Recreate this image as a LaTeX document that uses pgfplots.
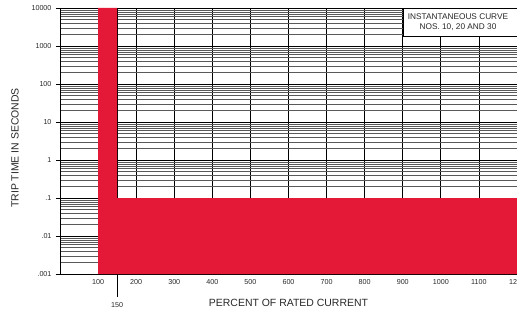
\documentclass[border=0pt]{standalone}
\usepackage{pgfplots}
\pgfplotsset{compat=1.18}
\usepackage{fontspec}
\setmainfont{Liberation Sans}
\definecolor{tripred}{RGB}{227,25,55}
\definecolor{txt}{RGB}{40,40,40}
\begin{document}
\begin{tikzpicture}
\path[use as bounding box] (-60bp,-40bp) rectangle (457bp,274bp);
\begin{axis}[
  scale only axis,
  width=457bp, height=266bp,
  xmin=0, xmax=1200,
  ymode=log, ymin=1e-3, ymax=1e4,
  axis line style={black, line width=0.8bp},
  axis x line*=bottom,
  axis y line*=left,
  xtick={100,200,300,400,500,600,700,800,900,1000,1100,1200},
  xticklabels={100,200,300,400,500,600,700,800,900,1000,1100,1200},
  extra x ticks={150},
  extra x tick labels={},
  extra x tick style={grid=major},
  xtick style={draw=none},
  ytick={1e-3,1e-2,1e-1,1,10,100,1000,10000},
  yticklabels={.001,.01,.1,1,10,100,1000,10000},
  minor ytick={2e-3,3e-3,4e-3,5e-3,6e-3,7e-3,8e-3,9e-3,
               2e-2,3e-2,4e-2,5e-2,6e-2,7e-2,8e-2,9e-2,
               0.2,0.3,0.4,0.5,0.6,0.7,0.8,0.9,
               2,3,4,5,6,7,8,9,
               20,30,40,50,60,70,80,90,
               200,300,400,500,600,700,800,900,
               2000,3000,4000,5000,6000,7000,8000,9000},
  tick align=outside,
  major tick length=4bp,
  minor tick length=0pt,
  ytick style={black, line width=0.6bp},
  grid=both,
  major grid style={black, line width=0.75bp},
  minor grid style={black!65, line width=0.3bp},
  tick label style={font=\fontsize{7.2}{8}\selectfont, text=txt},
  xticklabel style={yshift=2bp},
  yticklabel style={xshift=-1bp},
  xlabel={PERCENT OF RATED CURRENT},
  ylabel={TRIP TIME IN SECONDS},
  label style={font=\fontsize{10.5}{12}\selectfont, text=txt},
  xlabel style={at={(axis description cs:0.5,0)}, anchor=center, yshift=-29bp},
  ylabel style={at={(axis description cs:-0.0985,0.474)}, anchor=center},
  clip=false,
]
\addplot[fill=tripred, draw=none] coordinates {
  (100,0.001) (100,10000) (150,10000) (150,0.1) (1200,0.1) (1200,0.001) (100,0.001)
} \closedcycle;
\end{axis}
% 150 marker tick and box
\draw[black, line width=0.9bp] (57.1bp,0bp) -- (57.1bp,-23bp);
\node[font=\fontsize{7.2}{8}\selectfont, text=txt] at (57.1bp,-31bp) {150};
\draw[black, line width=0.8bp, fill=white] (343bp,238bp) rectangle (460bp,266bp);
\node[font=\fontsize{8.3}{10}\selectfont, text=txt, align=center] at (398bp,252bp) {INSTANTANEOUS CURVE\\NOS. 10, 20 AND 30};
\end{tikzpicture}
\end{document}
